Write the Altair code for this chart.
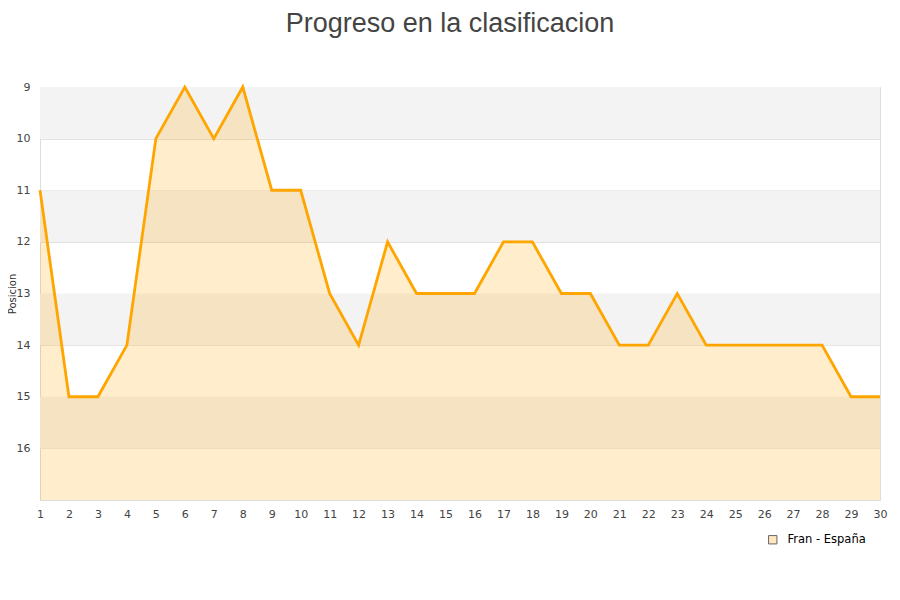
import altair as alt
import pandas as pd

jornadas = list(range(1, 31))
posiciones = [11, 15, 15, 14, 10, 9, 10, 9, 11, 11, 13, 14, 12, 13, 13, 13, 12, 12,
              13, 13, 14, 14, 13, 14, 14, 14, 14, 14, 15, 15]
serie = "Fran - España"
band_start = [9, 11, 13, 15]
band_end = [10, 12, 14, 16]
y_ticks = list(range(9, 17))

df = pd.DataFrame({"jornada": jornadas, "pos": posiciones, "serie": serie})
bands = pd.DataFrame({"y0": band_start, "y1": band_end})
legend_df = pd.DataFrame({"jornada": [0], "pos": [17], "serie": [serie]})

W, H = 840, 413
yscale = alt.Scale(domain=[9, 17], reverse=True, nice=False, zero=False)
xscale = alt.Scale(domain=[1, 30], nice=False, zero=False)

x_axis = alt.Axis(values=jornadas, title=None, grid=False, ticks=False, domain=False,
                  labelFont="DejaVu Sans", labelFontSize=11, labelColor="#444",
                  labelPadding=8, labelFlush=False, labelOverlap=False)
y_axis = alt.Axis(values=y_ticks, title="Posicion", grid=True,
                  gridColor="#e0e0e0", ticks=False, domain=False,
                  labelFont="DejaVu Sans", labelFontSize=11, labelColor="#444",
                  labelPadding=10, labelOverlap=False, titleFont="DejaVu Sans",
                  titleFontSize=10, titleFontWeight="normal", titleColor="#333",
                  titleX=-23, titleY=H / 2, titleAlign="center")

x_enc = alt.X("jornada:Q", scale=xscale, axis=x_axis)
y_enc = alt.Y("pos:Q", scale=yscale, axis=y_axis)

band_layer = alt.Chart(bands).mark_rect(color="#f3f3f3").encode(
    x=alt.value(0), x2=alt.value(W),
    y=alt.Y("y0:Q", scale=yscale, axis=y_axis),
    y2="y1:Q",
)

area = alt.Chart(df).mark_area(color="#FFA500", fillOpacity=0.2, interpolate="linear").encode(
    x=x_enc, y=y_enc, y2=alt.datum(17),
)

line = alt.Chart(df).mark_line(color="#FFA500", strokeWidth=2.8).encode(
    x=x_enc, y=y_enc,
)

legend_layer = alt.Chart(legend_df).mark_point(shape="square", filled=True, size=70,
                                               clip=True, opacity=1).encode(
    x=x_enc, y=y_enc,
    fill=alt.Fill("serie:N", scale=alt.Scale(range=["#ffe6bf"]),
                  legend=alt.Legend(title=None, orient="none", legendX=727, legendY=447,
                                    symbolType="square", symbolSize=70,
                                    symbolStrokeColor="#666", symbolStrokeWidth=1,
                                    labelFont="DejaVu Sans", labelFontSize=11.5,
                                    labelColor="#000", labelOffset=9)),
)

chart = alt.layer(band_layer, area, line, legend_layer).properties(
    width=W, height=H,
    title=alt.Title("Progreso en la clasificacion", font="Liberation Sans", fontSize=27,
                    fontWeight="normal", color="#444", offset=43, anchor="middle", dx=-10),
    autosize=alt.AutoSizeParams(type="none"),
    padding={"left": 32, "top": 79, "right": 12, "bottom": 80},
).configure_view(stroke="#dddddd", strokeWidth=1)

chart.save("out.html", embed_options={"renderer": "svg", "actions": False})
